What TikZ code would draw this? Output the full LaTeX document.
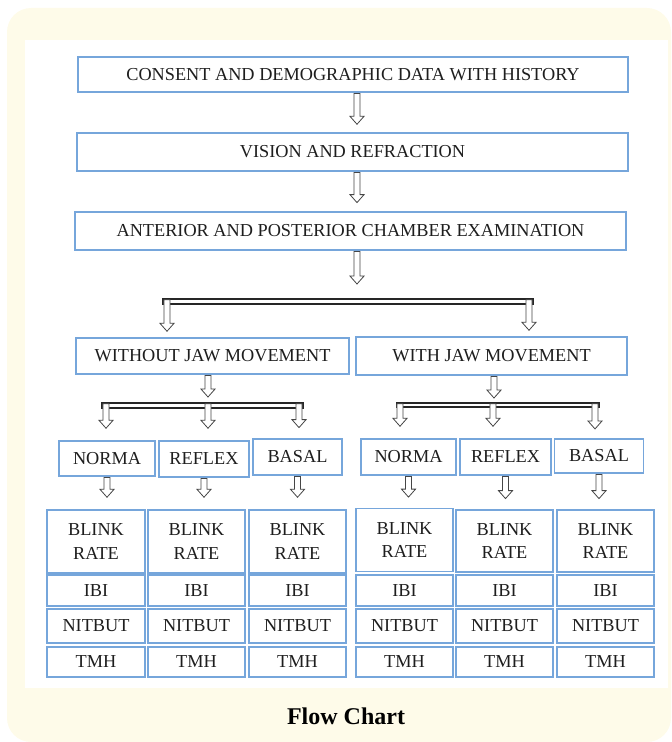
\documentclass[tikz,border=0pt]{standalone}
\usepackage{fontspec}
\setmainfont{Liberation Serif}
\usetikzlibrary{calc}
\definecolor{boxblue}{RGB}{118,166,219}
\definecolor{creamback}{RGB}{254,251,233}
\definecolor{arrowgray}{RGB}{70,70,70}
\definecolor{inktext}{RGB}{30,30,30}

\begin{document}
\begin{tikzpicture}[x=0.75pt,y=0.75pt,yscale=-1,xscale=1,
  blk/.style 2 args={draw=boxblue, line width=1.1pt, fill=white, minimum width=#1*0.75pt, minimum height=#2*0.75pt, inner sep=0pt, align=center, text=inktext, font=\fontsize{13.7}{17.3}\selectfont},
  hollow/.style={draw=arrowgray, line width=0.6pt, fill=white, line join=miter,
    to path={let \p1=(\tikztostart), \p2=(\tikztotarget) in
      (\x1-2.3pt,\y1+0.6pt) -- (\x1-2.3pt,\y2-#1-6pt) -- (\x1-5.3pt,\y2-#1-6pt) -- (\x1,\y2-#1) -- (\x1+5.3pt,\y2-#1-6pt) -- (\x1+2.3pt,\y2-#1-6pt) -- (\x1+2.3pt,\y1+0.6pt) -- cycle}},
  hollow/.default=0pt,
  joinbar/.style={draw=black!85, line width=0.8pt, fill=white}]
\useasboundingbox (0,0) rectangle (671,742);

%Shape: Rectangle [background]
\fill [creamback, rounded corners=18pt] (7,8) rectangle (671,742);
%Shape: Rectangle [sheet]
\fill [white] (25,40) rectangle (668,688);

% Text Node
\node (consent) at (353,74.5) [blk={550}{35}] {CONSENT AND DEMOGRAPHIC DATA WITH HISTORY};
% Text Node
\node (vision) at (352.5,152) [blk={551}{38}] {VISION AND REFRACTION};
% Text Node
\node (anterior) at (350.5,231) [blk={551}{38}] {ANTERIOR AND POSTERIOR CHAMBER EXAMINATION};
% Text Node
\node (without) at (212.5,356) [blk={273}{36}] {WITHOUT JAW MOVEMENT};
% Text Node
\node (withjaw) at (491.5,356) [blk={271}{38}] {WITH JAW MOVEMENT};

% Text Node
\node (normaL) at (107,458.5) [blk={96}{35}] {NORMA};
% Text Node
\node (reflexL) at (204,459) [blk={90}{36}] {REFLEX};
% Text Node
\node (basalL) at (297.5,457) [blk={89}{36}] {BASAL};
% Text Node
\node (normaR) at (408.5,457) [blk={95}{36}] {NORMA};
% Text Node
\node (reflexR) at (505.5,457) [blk={91}{36}] {REFLEX};
% Text Node
\node (basalR) at (599,456) [blk={89}{34}] {BASAL};

% Text Node
\node (blinkL1) at (96,541.5) [blk={98}{63}] {BLINK\\RATE};
\node (ibiL1) at (96,590.5) [blk={98}{31}] {IBI};
\node (nitL1) at (96,626) [blk={98}{34}] {NITBUT};
\node (tmhL1) at (96,662) [blk={98}{30}] {TMH};
% Text Node
\node (blinkL2) at (196.5,541.5) [blk={97}{63}] {BLINK\\RATE};
\node (ibiL2) at (196.5,590.5) [blk={97}{31}] {IBI};
\node (nitL2) at (196.5,626) [blk={97}{34}] {NITBUT};
\node (tmhL2) at (196.5,662) [blk={97}{30}] {TMH};
% Text Node
\node (blinkL3) at (297.5,541.5) [blk={97}{63}] {BLINK\\RATE};
\node (ibiL3) at (297.5,590.5) [blk={97}{31}] {IBI};
\node (nitL3) at (297.5,626) [blk={97}{34}] {NITBUT};
\node (tmhL3) at (297.5,662) [blk={97}{30}] {TMH};
% Text Node
\node (blinkR1) at (404.5,540) [blk={97}{63}] {BLINK\\RATE};
\node (ibiR1) at (404.5,590.5) [blk={97}{31}] {IBI};
\node (nitR1) at (404.5,626) [blk={97}{34}] {NITBUT};
\node (tmhR1) at (404.5,662) [blk={97}{30}] {TMH};
% Text Node
\node (blinkR2) at (504.5,541) [blk={97}{62}] {BLINK\\RATE};
\node (ibiR2) at (504.5,590.5) [blk={97}{31}] {IBI};
\node (nitR2) at (504.5,626) [blk={97}{34}] {NITBUT};
\node (tmhR2) at (504.5,662) [blk={97}{30}] {TMH};
% Text Node
\node (blinkR3) at (605.5,541) [blk={97}{62}] {BLINK\\RATE};
\node (ibiR3) at (605.5,590.5) [blk={97}{31}] {IBI};
\node (nitR3) at (605.5,626) [blk={97}{34}] {NITBUT};
\node (tmhR3) at (605.5,662) [blk={97}{30}] {TMH};

% Text Node
\node (caption) at (346,724) [anchor=base, font=\fontsize{18}{20}\selectfont\bfseries, text=black] {Flow Chart};

% junction points
\coordinate (stem1) at (357,284);
\coordinate (barAl) at (163,299);
\coordinate (barAr) at (533,304);
\coordinate (dropA1) at (167,299);
\coordinate (dropA2) at (529,299);
\coordinate (stem2) at (208,397);
\coordinate (barBl) at (102,403);
\coordinate (barBr) at (303,408);
\coordinate (dropB1) at (106,403);
\coordinate (dropB2) at (208,403);
\coordinate (dropB3) at (299,403);
\coordinate (stem3) at (494,398);
\coordinate (barCl) at (397,403);
\coordinate (barCr) at (599,407);
\coordinate (dropC1) at (400,403);
\coordinate (dropC2) at (493,403);
\coordinate (dropC3) at (595,403);

%Straight Lines
\draw [hollow=6pt] (consent.south -| stem1) to (vision.north);
\draw [hollow=6.5pt] (vision.south -| stem1) to (anterior.north);
\draw [hollow] (anterior.south -| stem1) to (stem1);

%Shape: Rectangle
\draw [joinbar] (barAl) rectangle (barAr);
\draw [hollow=4.5pt] (dropA1) to (without.north);
\draw [hollow=4.5pt] (dropA2) to (withjaw.north);

%Straight Lines
\draw [hollow] (without.south -| stem2) to (stem2);
\draw [joinbar] (barBl) rectangle (barBr);
\draw [hollow=9pt] (dropB1) to (normaL.north);
\draw [hollow=9pt] (dropB2) to (reflexL.north);
\draw [hollow=8pt] (dropB3) to (basalL.north);

%Straight Lines
\draw [hollow] (withjaw.south -| stem3) to (stem3);
\draw [joinbar] (barCl) rectangle (barCr);
\draw [hollow=9pt] (dropC1) to (normaR.north);
\draw [hollow=9pt] (dropC2) to (reflexR.north);
\draw [hollow=7pt] (dropC3) to (basalR.north);

%Straight Lines
\draw [hollow=9pt] (normaL.south) to (blinkL1.north);
\draw [hollow=9pt] (reflexL.south) to (blinkL2.north);
\draw [hollow=9pt] (basalL.south) to (blinkL3.north);
\draw [hollow=8pt] (normaR.south) to (blinkR1.north);
\draw [hollow=8pt] (reflexR.south) to (blinkR2.north);
\draw [hollow=8pt] (basalR.south) to (blinkR3.north);

\end{tikzpicture}
\end{document}
